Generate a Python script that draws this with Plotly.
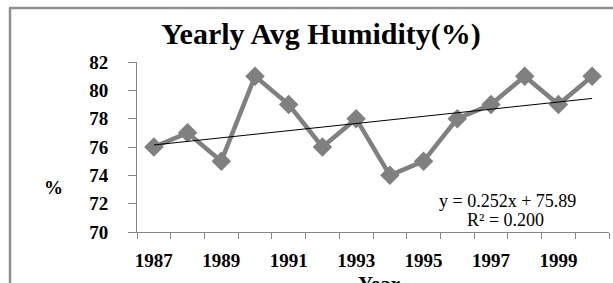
import numpy as np
import plotly.graph_objects as go

# ---- data ----
years = [1987, 1988, 1989, 1990, 1991, 1992, 1993, 1994, 1995, 1996, 1997, 1998, 1999, 2000]
humidity = [76, 77, 75, 81, 79, 76, 78, 74, 75, 78, 79, 81, 79, 81]
x_tick_labels = [1987, 1989, 1991, 1993, 1995, 1997, 1999]
y_ticks = [70, 72, 74, 76, 78, 80, 82]
title_text = "Yearly Avg Humidity(%)"
eq_text = "y = 0.252x + 75.89"
r2_text = "R² = 0.200"

# ---- layout geometry (pixels) ----
W, H = 613, 283
L, R, T, B = 137, 4, 62, 51
pw, ph = W - L - R, H - T - B

def px_x(px):
    return (px - L) / pw

def px_y(py):
    return (H - B - py) / ph

# linear trendline (Excel style, x = 1..n)
idx = np.arange(1, len(years) + 1)
slope, intercept = np.polyfit(idx, humidity, 1)
trend = slope * idx + intercept

serif = "Liberation Serif, Times New Roman, serif"

fig = go.Figure()
fig.add_trace(go.Scatter(
    x=years, y=humidity, mode="lines+markers",
    line=dict(color="#808080", width=4.5),
    marker=dict(symbol="diamond", size=15, color="#808080"),
    showlegend=False, hoverinfo="skip"))
fig.add_trace(go.Scatter(
    x=[years[0], years[-1]], y=[trend[0], trend[-1]], mode="lines",
    line=dict(color="#000000", width=1),
    showlegend=False, hoverinfo="skip"))

fig.update_layout(
    width=W, height=H,
    margin=dict(l=L, r=R, t=T, b=B, pad=0),
    paper_bgcolor="white", plot_bgcolor="white",
    font=dict(family=serif, color="black"),
    title=dict(text="<b>" + title_text + "</b>", xref="container", yref="container",
               x=321 / W, y=1 - 33 / H, xanchor="center", yanchor="middle",
               font=dict(size=30, family=serif, color="black")),
    xaxis=dict(range=[years[0] - 0.5, years[-1] + 0.5],
               tickmode="array", tickvals=x_tick_labels,
               ticktext=[str(v) for v in x_tick_labels],
               ticks="", showgrid=False, zeroline=False,
               showline=True, linecolor="#868686", linewidth=1,
               tickfont=dict(size=19, family=serif, color="black", weight="bold"),
               ticklabelstandoff=11,
               minor=dict(tick0=years[0] - 0.5, dtick=1, ticks="outside",
                          ticklen=6, tickcolor="#868686", tickwidth=1, showgrid=False)),
    yaxis=dict(range=[y_ticks[0], y_ticks[-1]], tickmode="array", tickvals=y_ticks,
               ticks="outside", ticklen=8, tickcolor="#868686", tickwidth=1,
               showgrid=False, zeroline=False,
               showline=True, linecolor="#868686", linewidth=1,
               tickfont=dict(size=19, family=serif, color="black", weight="bold"),
               ticklabelstandoff=16),
)

# axis titles and trendline label
fig.add_annotation(text="%", xref="paper", yref="paper", x=px_x(53), y=px_y(187),
                   showarrow=False, xanchor="center", yanchor="middle",
                   font=dict(size=19, family=serif, color="black", weight="bold"))
fig.add_annotation(text="<b>Year</b>", xref="paper", yref="paper", x=px_x(379), y=px_y(284),
                   showarrow=False, xanchor="center", yanchor="middle",
                   font=dict(size=21, family=serif, color="black"))
fig.add_annotation(text=eq_text, xref="paper", yref="paper", x=px_x(507), y=px_y(201),
                   showarrow=False, xanchor="center", yanchor="middle",
                   font=dict(size=18, family=serif, color="black"))
fig.add_annotation(text=r2_text, xref="paper", yref="paper", x=px_x(505), y=px_y(220),
                   showarrow=False, xanchor="center", yanchor="middle",
                   font=dict(size=18, family=serif, color="black"))

# outer chart frame (left and top edges visible)
fig.add_shape(type="line", xref="paper", yref="paper",
              x0=px_x(10), x1=px_x(10), y0=px_y(8), y1=px_y(300),
              line=dict(color="#8f8f8f", width=2.5))
fig.add_shape(type="line", xref="paper", yref="paper",
              x0=px_x(9), x1=px_x(640), y0=px_y(8), y1=px_y(8),
              line=dict(color="#8f8f8f", width=2.5))

# remove the browser's default page margin so the figure sits at the window's corner
fig.write_html("out.html", config={"displayModeBar": False},
               post_script="document.body.style.margin='0';document.body.style.overflow='hidden';")
